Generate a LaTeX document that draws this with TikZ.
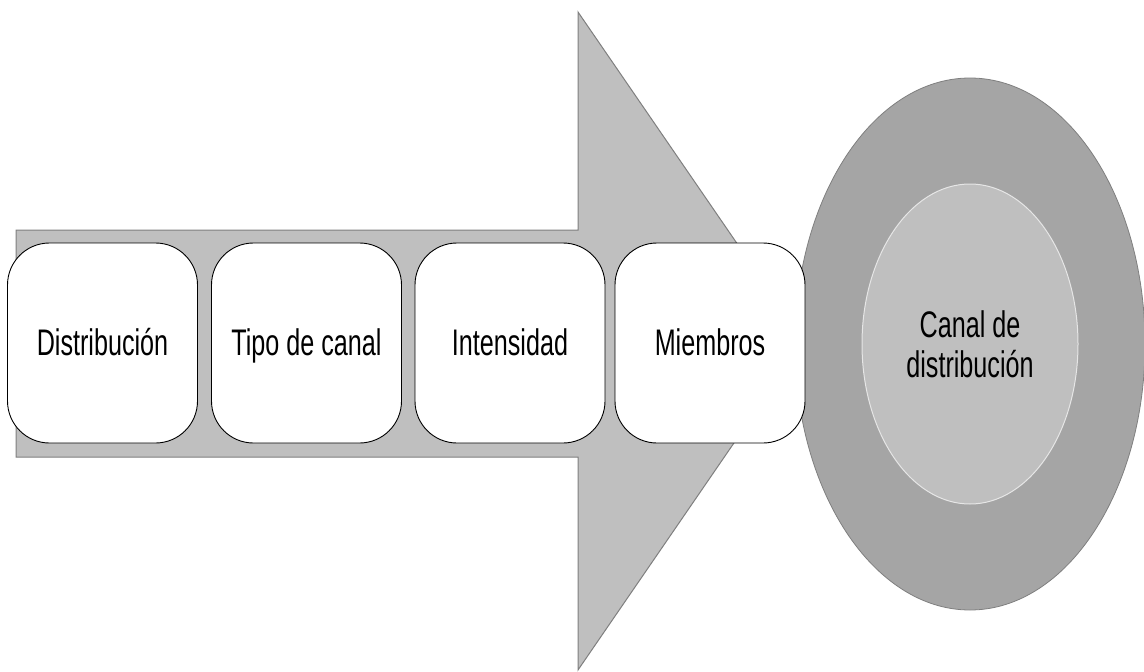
\documentclass[tikz,border=0pt]{standalone}
\usepackage{fontspec}
\setmainfont[FakeStretch=0.68]{Liberation Sans}
\usetikzlibrary{shapes.geometric}
\definecolor{arrowgray}{HTML}{BFBFBF}
\definecolor{edgegray}{HTML}{7F7F7F}
\definecolor{outergray}{HTML}{A5A5A5}
\definecolor{innergray}{HTML}{BFBFBF}
\definecolor{inneredge}{HTML}{E6E6E6}
\tikzset{
  stepbox/.style={draw=black, line width=0.9pt, fill=white, rounded corners=42pt,
    minimum width=190pt, minimum height=200pt, inner sep=0pt,
    text height=27pt, text depth=3pt,
    font=\fontsize{37}{40}\selectfont},
  bigarrow/.style={fill=arrowgray, draw=edgegray, line width=1pt},
  outerell/.style={ellipse, fill=outergray, draw=edgegray, line width=0.8pt,
    minimum width=350pt, minimum height=532pt, inner sep=0pt},
  innerell/.style={ellipse, fill=innergray, draw=inneredge, line width=1pt,
    minimum width=216pt, minimum height=320pt, inner sep=0pt, align=center,
    font=\fontsize{37}{40}\selectfont}
}
\begin{document}
\begin{tikzpicture}[x=1pt,y=-1pt]
\useasboundingbox (0,0) rectangle (1144,672);
\coordinate (a1) at (16,230);
\coordinate (a2) at (578,230);
\coordinate (a3) at (578,12);
\coordinate (a4) at (804,341);
\coordinate (a5) at (578,670);
\coordinate (a6) at (578,457);
\coordinate (a7) at (16,457);
\draw[bigarrow] (a1) -- (a2) -- (a3) -- (a4) -- (a5) -- (a6) -- (a7) -- cycle;
\node[outerell] (outer) at (970,344) {};
\node[innerell] (inner) at (970,344) {Canal de\\distribución};
\node[stepbox] (b1) at (102.5,343) {Distribución};
\node[stepbox] (b2) at (306.5,343) {Tipo de canal};
\node[stepbox] (b3) at (510,343) {Intensidad};
\node[stepbox] (b4) at (710,343) {Miembros};
\end{tikzpicture}
\end{document}
